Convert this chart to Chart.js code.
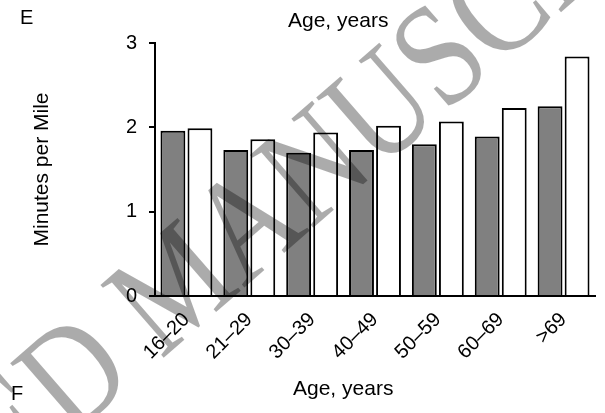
<!DOCTYPE html>
<html>
<head>
<meta charset="utf-8">
<script src="https://cdn.jsdelivr.net/npm/chart.js@4.4.0/dist/chart.umd.min.js"></script>
<style>
  html, body { margin: 0; padding: 0; background: #fff; }
</style>
</head>
<body>
<canvas id="myChart" width="605" height="413"></canvas>
<script>
// Age groups on the x-axis
var ageGroups = ['16–20', '21–29', '30–39', '40–49', '50–59', '60–69', '>69'];

// Minutes per mile
var darkValues = [1.96, 1.73, 1.70, 1.73, 1.80, 1.89, 2.25];
var whiteValues = [1.99, 1.86, 1.94, 2.02, 2.07, 2.23, 2.84];

// Y-axis tick values
var yTicks = [0, 1, 2, 3];

var sansFont = '"Liberation Sans", Arial, Helvetica, sans-serif';

// Panel letters and the two "Age, years" captions
const captionPlugin = {
    id: 'captionPlugin',
    afterDraw(chart) {
        const ctx = chart.ctx;
        ctx.save();
        ctx.fillStyle = '#000';
        ctx.textBaseline = 'alphabetic';
        ctx.textAlign = 'left';
        ctx.font = '20px ' + sansFont;
        ctx.fillText('E', 20, 24);
        ctx.fillText('F', 11, 400);
        ctx.font = '21px ' + sansFont;
        ctx.fillText('Age, years', 288, 27);
        ctx.fillText('Age, years', 293, 395);
        ctx.restore();
    }
};

// Faint diagonal watermark over the figure
const watermarkPlugin = {
    id: 'watermarkPlugin',
    afterDraw(chart) {
        const ctx = chart.ctx;
        ctx.save();
        ctx.font = '128px "Liberation Serif", "Times New Roman", serif';
        ctx.fillStyle = 'rgba(0, 0, 0, 0.33)';
        ctx.textBaseline = 'alphabetic';
        ctx.textAlign = 'left';
        ctx.translate(161, 360);
        ctx.rotate(-41 * Math.PI / 180);
        ctx.scale(0.96, 1.15);
        var pre = ctx.measureText('ACCEPTED ').width;
        ctx.fillText('ACCEPTED MANUSCRIPT', -pre, 0);
        ctx.restore();
    }
};

var ctx = document.getElementById('myChart').getContext('2d');

var myChart = new Chart(ctx, {
    type: 'bar',
    data: {
        labels: ageGroups,
        datasets: [{
            label: 'Dark bars',
            data: darkValues,
            backgroundColor: '#808080',
            borderColor: '#000',
            borderWidth: 2
        }, {
            label: 'White bars',
            data: whiteValues,
            backgroundColor: '#fff',
            borderColor: '#000',
            borderWidth: 2
        }]
    },
    options: {
        responsive: false,
        animation: false,
        devicePixelRatio: 1,
        layout: {
            padding: { top: 43, right: 10, bottom: 0, left: 0 }
        },
        datasets: {
            bar: {
                categoryPercentage: 0.86,
                barPercentage: 0.92
            }
        },
        scales: {
            x: {
                grid: { display: true, drawOnChartArea: false, drawTicks: false },
                border: { display: true, color: '#000', width: 2 },
                ticks: {
                    color: '#000',
                    font: { family: sansFont, size: 20 },
                    minRotation: 45,
                    maxRotation: 45,
                    padding: 12
                },
                afterFit(scale) { scale.height = 117; }
            },
            y: {
                min: 0,
                max: 3,
                afterBuildTicks(scale) {
                    scale.ticks = yTicks.map(function(v) { return { value: v }; });
                },
                grid: {
                    drawOnChartArea: false,
                    drawTicks: true,
                    tickLength: 6,
                    color: '#000',
                    lineWidth: 2
                },
                border: { display: true, color: '#000', width: 2 },
                ticks: {
                    color: '#000',
                    font: { family: sansFont, size: 20 },
                    padding: 12
                },
                title: {
                    display: true,
                    text: 'Minutes per Mile',
                    color: '#000',
                    font: { family: sansFont, size: 21 },
                    padding: { top: 30, bottom: 0 }
                },
                afterFit(scale) { scale.width = 155; }
            }
        },
        plugins: {
            legend: { display: false },
            tooltip: { enabled: false }
        }
    },
    plugins: [captionPlugin, watermarkPlugin]
});
</script>
</body>
</html>
